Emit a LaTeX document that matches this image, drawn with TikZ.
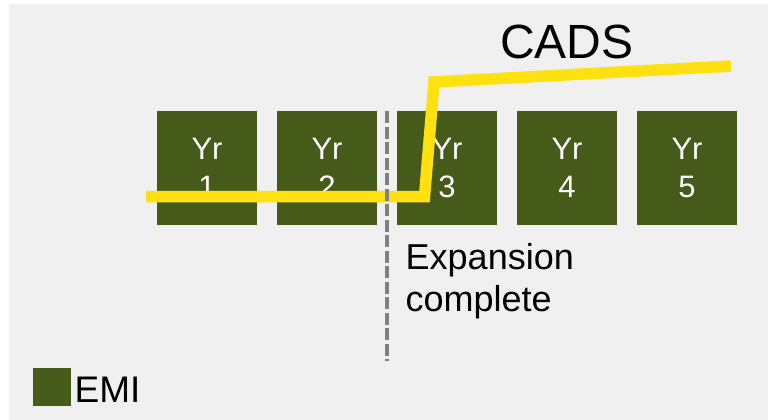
\documentclass[tikz,border=0pt]{standalone}
\usepackage{fontspec}
\setmainfont{Liberation Sans}
\definecolor{bggray}{RGB}{240,240,240}
\definecolor{olive}{RGB}{70,90,25}
\definecolor{cadsyellow}{RGB}{255,224,16}
\definecolor{dashgray}{RGB}{128,128,128}
\begin{document}
\begin{tikzpicture}[x=1pt,y=-1pt,
  yearbox/.style={fill=olive,draw=none,minimum width=100pt,minimum height=114pt,inner sep=0pt,
    text=white,align=center,font=\fontsize{31}{38}\selectfont},
  cadsline/.style={draw=cadsyellow,line width=11.5pt,line join=miter},
  divider/.style={draw=dashgray,line width=4pt,dash pattern=on 12pt off 3.5pt},
  label/.style={inner sep=0pt,anchor=base west,text=black}]
\useasboundingbox (0,0) rectangle (768,420);
\fill[white] (0,0) rectangle (768,420);
\fill[bggray] (9,4) rectangle (768,420);
\node[yearbox] (y1) at (207,168) {Yr\\1};
\node[yearbox] (y2) at (327,168) {Yr\\2};
\node[yearbox] (y3) at (447,168) {Yr\\3};
\node[yearbox] (y4) at (567,168) {Yr\\4};
\node[yearbox] (y5) at (687,168) {Yr\\5};
\coordinate (c0) at (146,196.5);
\coordinate (c1) at (424.5,196.5);
\coordinate (c2) at (434,82);
\coordinate (c3) at (731,66);
\draw[cadsline] (c0) -- (c1) -- (c2) -- (c3);
\coordinate (d0) at (386.5,111);
\coordinate (d1) at (386.5,361);
\draw[divider] (d0) -- (d1);
\node[label,font=\fontsize{48}{56}\selectfont] (cads) at (500,59) {CADS};
\node[label,align=left,font=\fontsize{36}{42.4}\selectfont] (exp) at (405.5,311.7) {Expansion\\complete};
\node[fill=olive,minimum width=38pt,minimum height=38pt,inner sep=0pt] (emibox) at (52,387) {};
\node[label,font=\fontsize{37}{44}\selectfont] (emi) at (74.5,402) {EMI};
\end{tikzpicture}
\end{document}
